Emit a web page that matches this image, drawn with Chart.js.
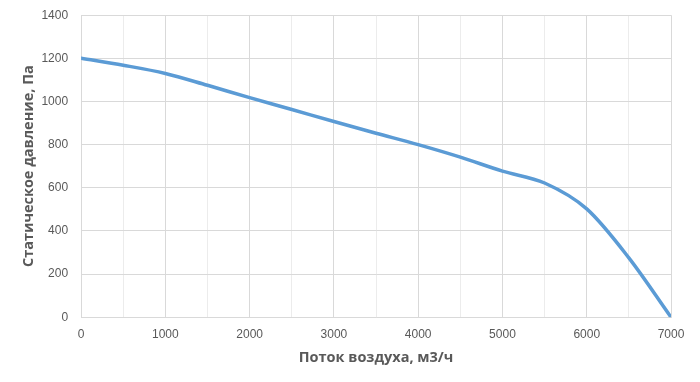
<!DOCTYPE html>
<html lang="ru">
<head>
  <meta charset="UTF-8" />
  <title>Аэродинамическая характеристика</title>
  <script src="https://cdn.jsdelivr.net/npm/chart.js"></script>
  <style>
    html, body { margin: 0; padding: 0; background: #ffffff; }
    #wrap { width: 700px; height: 382px; }
  </style>
</head>
<body>
  <div id="wrap"><canvas id="fanChart" width="700" height="382"></canvas></div>

  <script>
    // расход воздуха, м3/ч
    const airflow = [0, 500, 1000, 1500, 2000, 2500, 3000, 3500, 4000, 4500, 5000, 5500, 6000, 6500, 7000];
    // статическое давление, Па
    const pressure = [1200, 1168, 1130, 1075, 1018, 963, 907, 853, 800, 742, 677, 622, 502, 275, 0];

    const xTitle = 'Поток воздуха, м3/ч';
    const yTitle = 'Статическое давление, Па';

    const points = airflow.map((x, i) => ({ x: x, y: pressure[i] }));

    const ctx = document.getElementById('fanChart').getContext('2d');
    const chart = new Chart(ctx, {
      type: 'line',
      data: {
        datasets: [{
          label: yTitle,
          data: points,
          borderColor: '#5b9bd5',
          backgroundColor: '#5b9bd5',
          borderWidth: 3.5,
          cubicInterpolationMode: 'monotone',
          pointRadius: 0,
          borderCapStyle: 'round'
        }]
      },
      options: {
        responsive: false,
        animation: false,
        layout: { padding: { top: 1, right: 29, bottom: 15, left: 20 } },
        plugins: {
          legend: { display: false },
          tooltip: { enabled: false }
        },
        scales: {
          x: {
            type: 'linear',
            min: 0,
            max: 7000,
            grid: {
              drawTicks: false,
              color: c => (c.tick && c.tick.value % 1000 === 0) ? '#d9d9d9' : '#ececec',
              lineWidth: 1
            },
            border: { color: '#d9d9d9' },
            ticks: {
              stepSize: 500,
              padding: 10,
              autoSkip: false,
              maxRotation: 0,
              color: '#595959',
              font: { family: 'Liberation Sans', size: 12 },
              callback: v => (v % 1000 === 0 ? String(v) : '')
            },
            title: {
              display: true,
              text: xTitle,
              color: '#595959',
              font: { family: 'Open Sans', size: 14.5, weight: 'bold' },
              padding: { top: -2, bottom: 0 }
            }
          },
          y: {
            min: 0,
            max: 1400,
            grid: {
              drawTicks: true,
              tickLength: 5,
              tickColor: 'rgba(0,0,0,0)',
              color: '#d9d9d9'
            },
            border: { color: '#d9d9d9' },
            ticks: {
              stepSize: 200,
              padding: 8,
              color: '#595959',
              font: { family: 'Liberation Sans', size: 12 },
              callback: v => String(v)
            },
            title: {
              display: true,
              text: yTitle,
              color: '#595959',
              font: { family: 'Open Sans', size: 14.5, weight: 'bold' },
              padding: { top: 0, bottom: -4 }
            }
          }
        }
      }
    });
  </script>
</body>
</html>
